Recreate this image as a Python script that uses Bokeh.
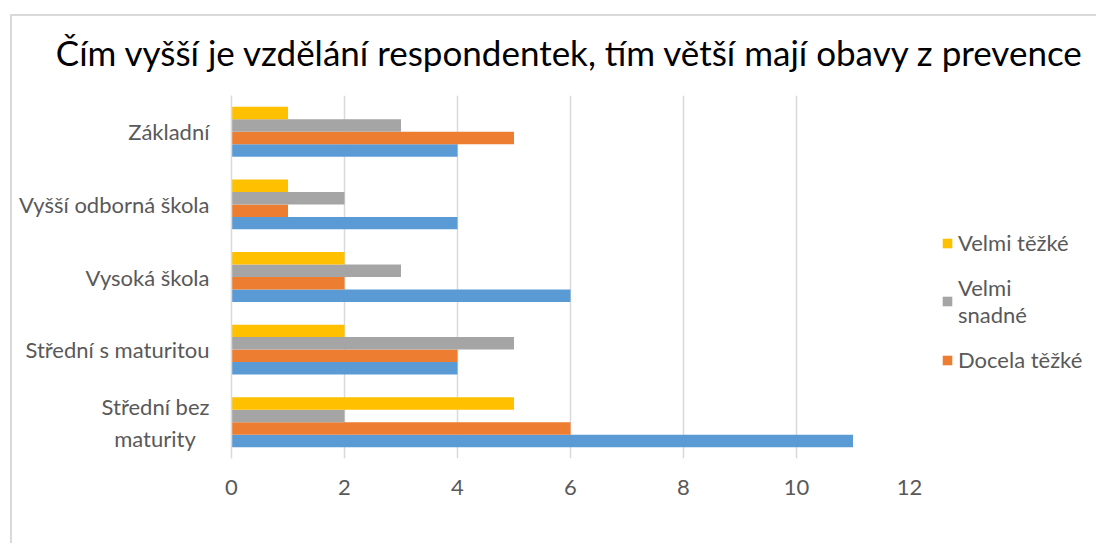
from bokeh.plotting import figure
from bokeh.models import FactorRange, Range1d, Legend, LegendItem, Title, ColumnDataSource, CustomJSTickFormatter
from bokeh.transform import dodge
from bokeh.embed import file_html
from bokeh.resources import INLINE

categories = ["Střední bez maturity", "Střední s maturitou", "Vysoká škola", "Vyšší odborná škola", "Základní"]
docela_snadne = [11, 4, 6, 4, 4]
docela_tezke = [6, 4, 2, 1, 5]
velmi_snadne = [2, 5, 3, 2, 3]
velmi_tezke = [5, 2, 2, 1, 1]
x_ticks = [0, 2, 4, 6, 8, 10, 12]
title_text = "Čím vyšší je vzdělání respondentek, tím větší mají obavy z prevence"

src = ColumnDataSource(dict(cat=categories, ds=docela_snadne, dt=docela_tezke,
                            vs=velmi_snadne, vt=velmi_tezke))

FONT = "Lato"
LBL = "22px"
p = figure(y_range=FactorRange(*categories), x_range=Range1d(0, 12),
           frame_width=678, frame_height=363,
           min_border_left=221, min_border_top=95, min_border_right=186, min_border_bottom=85,
           output_backend="svg", toolbar_location=None)
p.margin = (0, 0, 0, 10)
p.styles = {
    "background-image": "linear-gradient(#d9d9d9, #d9d9d9), linear-gradient(#d9d9d9, #d9d9d9)",
    "background-position": "0px 14px, 0px 14px",
    "background-size": "100% 2px, 2px 100%",
    "background-repeat": "no-repeat",
}
p.border_fill_alpha = 0
p.outline_line_color = None

bh = 0.172
r_ds = p.hbar(y=dodge("cat", -0.258, range=p.y_range), right="ds", left=0, height=bh, source=src,
              fill_color="#5B9BD5", line_color=None)
r_dt = p.hbar(y=dodge("cat", -0.086, range=p.y_range), right="dt", left=0, height=bh, source=src,
              fill_color="#ED7D31", line_color=None)
r_vs = p.hbar(y=dodge("cat", 0.086, range=p.y_range), right="vs", left=0, height=bh, source=src,
              fill_color="#A5A5A5", line_color=None)
r_vt = p.hbar(y=dodge("cat", 0.258, range=p.y_range), right="vt", left=0, height=bh, source=src,
              fill_color="#FFC000", line_color=None)

p.xaxis.ticker = x_ticks
p.xaxis.axis_line_color = None
p.xaxis.major_tick_line_color = None
p.xaxis.minor_tick_line_color = None
p.xaxis.major_label_standoff = 15
p.xaxis.major_label_text_font = FONT
p.xaxis.major_label_text_font_size = LBL
p.xaxis.major_label_text_color = "#595959"

p.yaxis.axis_line_color = "#d9d9d9"
p.yaxis.axis_line_width = 1.5
p.yaxis.major_tick_line_color = None
p.yaxis.minor_tick_line_color = None
p.yaxis.major_label_standoff = 16
p.yaxis.major_label_text_font = FONT
p.yaxis.major_label_text_font_size = LBL
p.yaxis.major_label_text_color = "#595959"
p.yaxis.formatter = CustomJSTickFormatter(code="""
    return tick == "Střední bez maturity" ? "Střední bez\\nmaturity\\u2002\\u2009" : tick;
""")

p.xgrid.grid_line_color = "#d9d9d9"
p.xgrid.grid_line_width = 1.5
p.ygrid.grid_line_color = None

p.add_layout(Title(text=title_text, text_font=FONT, text_font_size="35px", text_font_style="normal",
                   text_color="#000000", align="center", standoff=46), "above")

legend = Legend(items=[
    LegendItem(label="Velmi těžké", renderers=[r_vt]),
    LegendItem(label="Velmi\nsnadné", renderers=[r_vs]),
    LegendItem(label="Docela těžké", renderers=[r_dt]),
], location=(32, 85), margin=0, padding=10, spacing=18,
    glyph_width=12, glyph_height=12, label_standoff=5,
    label_text_font=FONT, label_text_font_size=LBL, label_text_color="#595959",
    border_line_color=None, background_fill_alpha=0)
p.add_layout(legend, "right")

open("out.html", "w").write(file_html(p, INLINE))
